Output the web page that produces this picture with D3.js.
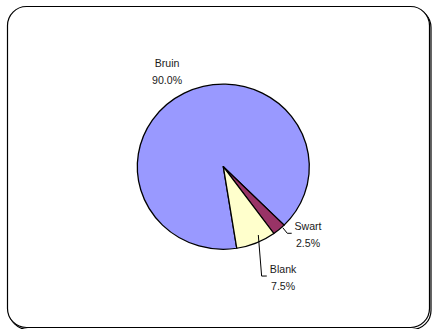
<!DOCTYPE html>
<html>
<head>
<meta charset="utf-8">
<script src="https://cdn.jsdelivr.net/npm/d3@7"></script>
<style>
  html, body { margin: 0; padding: 0; background: #fff; }
  svg { display: block; }
  text { font-family: "Liberation Sans", Arial, sans-serif; font-size: 10.6px; fill: #1a1a1a; }
</style>
</head>
<body>
<svg id="chart" width="432" height="329"></svg>
<script>
// Pie data, drawn clockwise in this order
const categories = ["Bruin", "Swart", "Blank"];
const values = [90.0, 2.5, 7.5];
const colors = ["#9999FF", "#993366", "#FFFFCC"];

// Label placement: angle (degrees clockwise from 12 o'clock) and distance from centre
const labelLayout = {
  Bruin: { angle: -29.7, dist: 113.5 },
  Swart: { angle: 130, dist: 110.6 },
  Blank: { angle: 152.7, dist: 130.4 }
};
// Leader lines, as polar points (angle, dist) from the slice to the label
const leaderLayout = {
  Swart: [[136.9, 87], [137.3, 94.4], [135.4, 97.4]],
  Blank: [[153.8, 79.3], [161.4, 120.2], [159.1, 121.9]]
};

const cx = 223.3, cy = 166.7, R = 86, squash = 0.96;
const svg = d3.select("#chart");

// Chart area frame with a light drop shadow
svg.append("rect")
  .attr("x", 9).attr("y", 8.5).attr("width", 422).attr("height", 321)
  .attr("rx", 19).attr("fill", "none").attr("stroke", "#000").attr("stroke-width", 1.2);
svg.append("rect")
  .attr("x", 7.5).attr("y", 6.5).attr("width", 422).attr("height", 321)
  .attr("rx", 19).attr("fill", "#fff").attr("stroke", "#000").attr("stroke-width", 1.2);

const data = categories.map((c, i) => ({ name: c, value: values[i], color: colors[i] }));
const rad = d => d * Math.PI / 180;

const pie = d3.pie().sort(null).value(d => d.value)
  .startAngle(rad(171)).endAngle(rad(171 + 360));
const arc = d3.arc().innerRadius(0).outerRadius(R);

const g = svg.append("g").attr("transform", `translate(${cx},${cy}) scale(1,${squash})`);
g.selectAll("path.slice")
  .data(pie(data))
  .join("path")
  .attr("class", "slice")
  .attr("d", arc)
  .attr("fill", d => d.data.color)
  .attr("stroke", "#000")
  .attr("stroke-width", 1.3)
  .attr("stroke-linejoin", "round");

const polar = (a, r) => [cx + r * Math.sin(rad(a)), cy - r * Math.cos(rad(a)) * squash];

// Leader lines
const line = d3.line();
Object.entries(leaderLayout).forEach(([name, pts]) => {
  svg.append("path")
    .attr("d", line(pts.map(p => polar(p[0], p[1]))))
    .attr("fill", "none").attr("stroke", "#000").attr("stroke-width", 1);
});

// Category and percentage labels
data.forEach(d => {
  const L = labelLayout[d.name];
  const [x, y] = polar(L.angle, L.dist);
  const t = svg.append("text").attr("text-anchor", "middle");
  t.append("tspan").attr("x", x).attr("y", y - 5).text(d.name);
  t.append("tspan").attr("x", x).attr("y", y + 12).text(d.value.toFixed(1) + "%");
});
</script>
</body>
</html>
